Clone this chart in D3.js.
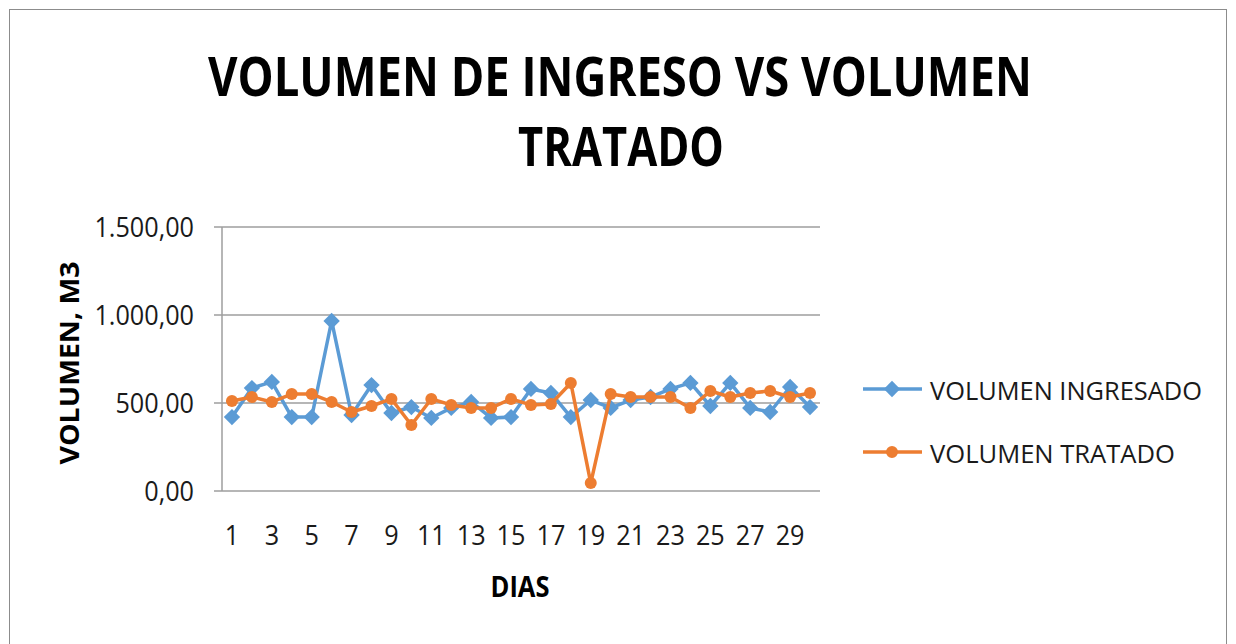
<!DOCTYPE html>
<html>
<head>
<meta charset="utf-8">
<script src="https://cdn.jsdelivr.net/npm/d3@7"></script>
<style>
  body { margin: 0; background: #fff; }
  text { font-family: "Open Sans", "Liberation Sans", sans-serif; }
</style>
</head>
<body>
<div id="chart"></div>
<script>
// data
var dias = d3.range(1, 31);
var volumenIngresado = [420, 585, 620, 420, 420, 966, 432, 602, 443, 477,
                        415, 472, 506, 415, 420, 580, 557, 420, 517, 472,
                        517, 534, 580, 614, 483, 614, 472, 449, 591, 477];
var volumenTratado = [511, 534, 506, 551, 551, 506, 449, 483, 523, 375,
                      523, 489, 472, 472, 523, 489, 494, 614, 45, 551,
                      534, 534, 534, 472, 568, 534, 557, 568, 534, 557];
var yTicks = [0, 500, 1000, 1500];
var seriesNames = ["VOLUMEN INGRESADO", "VOLUMEN TRATADO"];

var WIDTH = 1236, HEIGHT = 644;
var BLUE = "#5b9bd5", ORANGE = "#ed7d31", TXT = "#1a1a1a";

// squeeze text horizontally, the original font is narrower
function squeeze(sel, k) {
    sel.each(function() {
        var w = this.getComputedTextLength();
        d3.select(this).attr("textLength", w * k).attr("lengthAdjust", "spacingAndGlyphs");
    });
}

var svg = d3.select("#chart").append("svg")
    .attr("width", WIDTH)
    .attr("height", HEIGHT);

// chart border
svg.append("rect")
    .attr("x", 9.5).attr("y", 9.5)
    .attr("width", 1217).attr("height", 640)
    .attr("fill", "#fff")
    .attr("stroke", "#8c8c8c");

// title
var title = svg.append("g").attr("font-weight", "bold").attr("text-anchor", "middle")
    .attr("font-size", 54).attr("fill", "#000");
title.append("text").attr("x", 620).attr("y", 96)
    .attr("textLength", 824).attr("lengthAdjust", "spacingAndGlyphs")
    .text("VOLUMEN DE INGRESO VS VOLUMEN");
title.append("text").attr("x", 621).attr("y", 166)
    .attr("textLength", 206).attr("lengthAdjust", "spacingAndGlyphs")
    .text("TRATADO");

// scales
var x = d3.scaleBand().domain(dias).range([222, 820]);
var y = d3.scaleLinear().domain([0, 1500]).range([491, 227]);
var cx = function(d, i) { return x(dias[i]) + x.bandwidth() / 2; };

// gridlines
svg.append("g").selectAll("line")
    .data(yTicks)
    .enter().append("line")
    .attr("x1", 214).attr("x2", 820)
    .attr("y1", d => y(d)).attr("y2", d => y(d))
    .attr("stroke", "#9e9e9e").attr("stroke-width", 1.5);

// y axis line
svg.append("line")
    .attr("x1", 222).attr("x2", 222)
    .attr("y1", y(1500)).attr("y2", y(0))
    .attr("stroke", "#9e9e9e").attr("stroke-width", 1.5);

// y tick labels
var fmt = d3.formatLocale({decimal: ",", thousands: ".", grouping: [3], currency: ["", ""]}).format(",.2f");
svg.append("g").selectAll("text")
    .data(yTicks)
    .enter().append("text")
    .attr("x", 194).attr("y", d => y(d) + 10)
    .attr("text-anchor", "end")
    .attr("font-size", 28).attr("fill", TXT)
    .text(d => fmt(d))
    .call(squeeze, 0.9);

// x tick labels
svg.append("g").selectAll("text")
    .data(dias.filter(d => d % 2 === 1))
    .enter().append("text")
    .attr("x", d => x(d) + x.bandwidth() / 2)
    .attr("y", 545)
    .attr("text-anchor", "middle")
    .attr("font-size", 28).attr("fill", TXT)
    .text(d => d)
    .call(squeeze, 0.9);

// axis titles
svg.append("text")
    .attr("x", 520).attr("y", 597)
    .attr("text-anchor", "middle")
    .attr("font-size", 28).attr("font-weight", "bold")
    .attr("textLength", 59).attr("lengthAdjust", "spacingAndGlyphs")
    .text("DIAS");
svg.append("text")
    .attr("transform", "translate(79,363) rotate(-90)")
    .attr("text-anchor", "middle")
    .attr("font-size", 27).attr("font-weight", "bold")
    .attr("textLength", 203).attr("lengthAdjust", "spacingAndGlyphs")
    .text("VOLUMEN, M3");

// lines
var line = d3.line().x(cx).y(d => y(d));

svg.append("path")
    .datum(volumenIngresado)
    .attr("d", line)
    .attr("fill", "none").attr("stroke", BLUE)
    .attr("stroke-width", 3.5).attr("stroke-linejoin", "round");

svg.append("g").selectAll("path")
    .data(volumenIngresado)
    .enter().append("path")
    .attr("d", d3.symbol().type(d3.symbolDiamond2).size(170))
    .attr("transform", (d, i) => "translate(" + cx(d, i) + "," + y(d) + ")")
    .attr("fill", BLUE);

svg.append("path")
    .datum(volumenTratado)
    .attr("d", line)
    .attr("fill", "none").attr("stroke", ORANGE)
    .attr("stroke-width", 3.5).attr("stroke-linejoin", "round");

svg.append("g").selectAll("circle")
    .data(volumenTratado)
    .enter().append("circle")
    .attr("cx", cx).attr("cy", d => y(d))
    .attr("r", 6)
    .attr("fill", ORANGE);

// legend
var legendW = [272, 245];
var legend = svg.append("g").selectAll("g")
    .data(seriesNames)
    .enter().append("g")
    .attr("transform", (d, i) => "translate(863," + (389 + i * 63) + ")");

legend.append("line")
    .attr("x1", 0).attr("x2", 59)
    .attr("stroke", (d, i) => i === 0 ? BLUE : ORANGE)
    .attr("stroke-width", 3.5);

legend.append("path")
    .attr("transform", "translate(29,0)")
    .attr("d", (d, i) => i === 0
        ? d3.symbol().type(d3.symbolDiamond2).size(170)()
        : d3.symbol().type(d3.symbolCircle).size(113)())
    .attr("fill", (d, i) => i === 0 ? BLUE : ORANGE);

legend.append("text")
    .attr("x", 67).attr("y", 11)
    .attr("font-size", 26).attr("fill", TXT)
    .attr("textLength", (d, i) => legendW[i]).attr("lengthAdjust", "spacingAndGlyphs")
    .text(d => d);
</script>
</body>
</html>
